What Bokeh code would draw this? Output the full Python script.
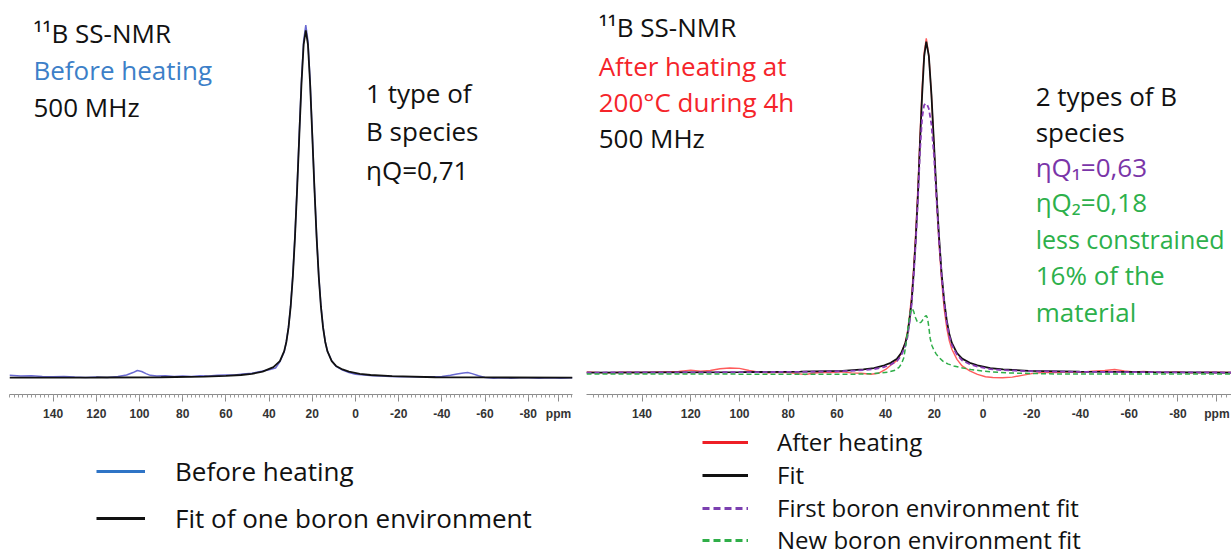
from bokeh.plotting import figure
from bokeh.layouts import row, column
from bokeh.models import Range1d, FixedTicker, Label, Legend, LegendItem
from bokeh.embed import file_html
from bokeh.resources import INLINE

# ---------------- data ----------------
tick_values = [140, 120, 100, 80, 60, 40, 20, 0, -20, -40, -60, -80]
tick_labels = ["140", "120", "100", "80", "60", "40", "20", "0", "-20", "-40", "-60", "-80"]
minor_tick_values = list(range(-100, 162, 2))
unit_label = "ppm"

# Left panel: before heating (experimental) and single-site fit
left_ppm_exp = [160.2, 155, 150, 145, 140, 135, 130, 125, 120, 115, 110, 106, 103, 101, 99, 97, 95, 92, 88, 84,
                80, 76, 72, 68, 64, 60, 56, 52, 48, 44, 40, 37, 35, 33, 32, 31, 30, 29, 28, 27,
                26, 25, 24, 23, 22, 21, 20, 19, 18, 17, 16, 15, 14, 13, 11, 9, 6, 3, 0, -4,
                -8, -12, -16, -20, -25, -30, -35, -40, -44, -47, -50, -52, -54, -57, -60, -64, -68, -72, -76, -80,
                -85, -90, -95, -100.5]
left_exp = [0.9, 0.7, 0.8, 0.6, 0.5, 0.6, 0.4, 0.3, 0.4, 0.3, 0.6, 1.0, 1.7, 2.3, 2.0, 1.4, 0.9, 0.7, 0.8, 0.6,
            0.7, 0.6, 0.8, 0.7, 0.9, 1.0, 1.0, 1.3, 1.5, 2.0, 2.5, 3.0, 4.8, 7.6, 10.6, 14.8, 21.0, 29.8, 41.2, 55.3,
            70.8, 85.7, 97.1, 101.5, 97.0, 85.5, 70.5, 55.0, 41.0, 29.5, 21.0, 14.8, 10.6, 7.9, 5.1, 3.5, 2.4, 1.7, 1.2, 1.0,
            0.8, 0.7, 0.6, 0.5, 0.5, 0.4, 0.5, 0.6, 0.9, 1.3, 1.6, 1.7, 1.4, 0.8, 0.3, 0.1, 0.2, 0.1, 0.2, 0.2,
            0.1, 0.2, 0.1, 0.2]

left_ppm_fit = [160.2, 120, 90, 70, 60, 53, 48, 43, 38, 35, 33, 32, 31, 30, 29, 28, 27, 26, 25, 24,
                23, 22, 21, 20, 19, 18, 17, 16, 15, 14, 13, 11, 9, 6, 3, -2, -7, -17, -37, -60, -100.5]
left_fit = [0.25, 0.28, 0.36, 0.53, 0.73, 1.0, 1.35, 1.96, 3.25, 5.0, 7.85, 10.5, 14.6, 20.7, 29.3, 40.7, 54.6, 69.9, 84.7, 95.9,
            100.0, 95.9, 84.7, 69.9, 54.6, 40.7, 29.3, 20.7, 14.6, 10.5, 7.85, 5.0, 3.6, 2.6, 1.96, 1.35, 1.0, 0.66, 0.36, 0.3, 0.25]

# Right panel: after heating (experimental), total fit, and the two boron environments
right_ppm_exp = [162.8, 155, 148, 140, 132, 125, 120, 116, 112, 108, 104, 100, 96, 92, 88, 84, 80, 76, 73, 70,
                 66, 62, 58, 54, 50, 46, 43, 40, 37.9, 35.3, 33.6, 31.9, 31.0, 30.2, 29.3, 28.5, 27.6, 26.7, 25.9, 25.0,
                 24.2, 23.3, 22.25, 21.2, 20.15, 19.1, 18.05, 17.0, 15.95, 14.9, 13.85, 12.8, 10.7, 8.6, 5.45, 2.3, -1, -4, -8, -12,
                 -16, -20, -25, -30, -35, -40, -45, -50, -54, -58, -62, -66, -70, -75, -80, -85, -90, -95, -102]
right_exp = [1.9, 1.6, 1.8, 1.7, 1.9, 2.0, 2.4, 2.1, 2.3, 2.8, 3.0, 2.9, 2.3, 1.8, 1.6, 1.8, 1.7, 1.4, 1.1, 1.5,
             1.8, 1.7, 1.9, 1.6, 1.5, 1.2, 1.5, 2.6, 3.8, 5.2, 7.2, 10.5, 13.5, 18.0, 24.0, 31.8, 42.5, 55.5, 69.5, 83.5,
             93.5, 97.7, 92.8, 81.5, 66.8, 51.8, 38.5, 28.0, 20.0, 14.5, 10.8, 8.4, 5.5, 3.6, 2.2, 1.2, 0.5, 0.3, 0.2, 0.4,
             0.9, 1.4, 1.8, 1.7, 1.9, 1.8, 2.1, 2.3, 2.6, 2.2, 1.9, 2.0, 1.8, 1.7, 1.9, 1.6, 1.7, 1.8, 1.7]

right_ppm_fit = [162.8, 130, 100, 74.9, 57.7, 49.1, 44.8, 40.5, 37.9, 35.3, 33.6, 31.9, 31.0, 30.2, 29.3, 28.5, 27.6, 26.7, 25.9, 25.0,
                 24.16, 23.3, 22.25, 21.2, 20.15, 19.1, 18.05, 17.0, 15.95, 14.9, 13.85, 12.8, 10.7, 8.6, 5.45, 2.3, -2.95, -8.2, -18.7, -39.7,
                 -70, -102]
right_fit = [1.7, 1.75, 1.8, 1.95, 2.2, 2.6, 3.0, 3.8, 4.5, 5.7, 7.3, 10.2, 12.8, 16.7, 22.3, 30.1, 40.5, 53.2, 67.6, 81.7,
             92.6, 96.8, 92.6, 81.7, 67.6, 53.2, 40.5, 30.1, 22.3, 16.7, 12.8, 10.2, 7.3, 5.7, 4.5, 3.8, 3.0, 2.6, 2.2, 1.95,
             1.8, 1.7]

right_ppm_env1 = [162.8, 100, 74.9, 57.7, 49.1, 44.8, 40.5, 37.9, 35.3, 33.6, 31.9, 31.0, 30.2, 29.3, 28.5, 27.6, 26.7, 25.9, 25.0, 24.2,
                  23.6, 23.0, 22.25, 21.2, 20.15, 19.1, 18.05, 17.0, 15.95, 14.9, 13.85, 12.8, 10.7, 8.6, 5.45, 2.3, -2.95, -8.2, -18.7, -39.7,
                  -70, -102]
right_env1 = [1.7, 1.8, 1.9, 2.1, 2.4, 2.7, 3.3, 4.0, 5.0, 6.6, 9.4, 12.0, 16.0, 21.5, 29.3, 39.5, 52.0, 65.0, 75.0, 78.5,
              79.0, 78.8, 77.5, 73.0, 64.0, 51.5, 39.5, 29.5, 21.8, 16.0, 12.2, 9.6, 6.8, 5.2, 4.1, 3.4, 2.7, 2.4, 2.1, 1.9,
              1.8, 1.7]

right_ppm_env2 = [162.8, 120, 80, 55, 45, 39, 36, 34.5, 33.5, 32.6, 31.8, 31.0, 30.3, 29.6, 29.1, 28.5, 27.8, 27.0, 26.2, 25.4,
                  24.6, 23.9, 23.3, 22.8, 22.3, 21.7, 21.0, 20.2, 19.2, 18.0, 16.5, 14.5, 12.0, 9.0, 5.0, 0, -10, -30, -60, -102]
right_env2 = [1.3, 1.3, 1.2, 1.2, 1.4, 1.8, 2.4, 3.2, 4.2, 5.8, 9.0, 13.5, 17.5, 19.8, 20.1, 19.3, 17.6, 16.3, 15.9, 16.2,
              17.0, 17.8, 18.1, 17.3, 15.0, 11.5, 9.5, 8.2, 7.0, 6.0, 5.0, 4.2, 3.6, 3.1, 2.6, 2.1, 1.6, 1.3, 1.3, 1.3]

left_legend_labels = ["Before heating", "Fit of one boron environment"]
right_legend_labels = ["After heating", "Fit", "First boron environment fit", "New boron environment fit"]

# ---------------- styling ----------------
FONT = "Open Sans"
TXT = "26px"
BLACK = "#111111"
BLUE_TXT = "#3c7fc8"
RED_TXT = "#f5242a"
PURPLE_TXT = "#7a35a8"
GREEN_TXT = "#2db04b"


def make_fig(frame_w, x_start, x_end, mbl, mbr, unit_pos):
    p = figure(frame_width=frame_w, frame_height=386,
               x_range=Range1d(x_start, x_end), y_range=Range1d(-4.6, 106.3),
               output_backend="svg", toolbar_location=None, y_axis_location=None,
               min_border_left=mbl, min_border_right=mbr, min_border_top=8, min_border_bottom=30)
    p.grid.visible = False
    p.outline_line_color = None
    p.background_fill_color = "white"
    p.border_fill_color = "white"
    ax = p.xaxis[0]
    ax.ticker = FixedTicker(ticks=tick_values + [unit_pos], minor_ticks=minor_tick_values)
    overrides = {v: s for v, s in zip(tick_values, tick_labels)}
    overrides[unit_pos] = unit_label
    ax.major_label_overrides = overrides
    ax.axis_line_color = "#8c8c8c"
    ax.major_tick_line_color = "#8c8c8c"
    ax.minor_tick_line_color = "#9a9a9a"
    ax.major_tick_in = 0
    ax.major_tick_out = 7
    ax.minor_tick_in = 0
    ax.minor_tick_out = 3
    ax.major_label_text_font = "Liberation Sans"
    ax.major_label_text_font_style = "bold"
    ax.major_label_text_font_size = "12px"
    ax.major_label_text_color = "#333333"
    ax.major_label_standoff = 5
    return p


def add_text(p, x, y, text, color=BLACK, size=TXT):
    p.add_layout(Label(x=x, y=y, text=text, text_font=FONT, text_font_size=size,
                       text_color=color, text_align="left", text_baseline="middle"))


def legend_fig(width, items, x, glyph_w, standoff, font_size):
    # Legend swatches use the real series, drawn in a figure whose ranges lie
    # outside the data, so only the legend entries are visible. One legend per
    # entry lets the rows sit as tightly as in the original.
    f = figure(width=width, height=132, output_backend="svg", toolbar_location=None,
               x_axis_location=None, y_axis_location=None,
               x_range=Range1d(1000, 1001), y_range=Range1d(1000, 1001),
               min_border_left=0, min_border_right=0, min_border_top=0, min_border_bottom=0)
    f.grid.visible = False
    f.outline_line_color = None
    f.border_fill_color = "white"
    for label, xs, ys, color, dash, y in items:
        r = f.line(xs, ys, line_color=color, line_width=3, line_dash=dash)
        leg = Legend(items=[LegendItem(label=label, renderers=[r])], location=(x, y),
                     label_text_font=FONT, label_text_font_size=font_size, label_text_color=BLACK,
                     glyph_width=glyph_w, glyph_height=20, label_height=20, label_standoff=standoff,
                     spacing=0, padding=0, margin=0,
                     background_fill_alpha=0, border_line_alpha=0)
        f.add_layout(leg, "center")
    return f


# ---------------- left panel ----------------
pl = make_fig(563, 160.2, -100.5, 9, 7, -94)
pl.line(left_ppm_exp, left_exp, line_color="#6a6ad2", line_width=1.5)
pl.line(left_ppm_fit, left_fit, line_color="#111111", line_width=1.8)

add_text(pl, 149.1, 99.4, "\u00b9\u00b9B SS-NMR")
add_text(pl, 149.1, 88.6, "Before heating", BLUE_TXT)
add_text(pl, 149.1, 77.9, "500 MHz")
add_text(pl, -4.9, 81.9, "1 type of")
add_text(pl, -4.9, 71.0, "B species")
add_text(pl, -4.9, 59.8, "\u03b7Q=0,71")

# ---------------- right panel ----------------
pr = make_fig(645, 162.8, -102.0, 7, 0, -96)
pr.line(right_ppm_exp, right_exp, line_color="#ff5c5c", line_width=1.4)
pr.line(right_ppm_fit, right_fit, line_color="#111111", line_width=1.8)
pr.line(right_ppm_env1, right_env1, line_color="#8a3cb8", line_width=1.8, line_dash="5 3")
pr.line(right_ppm_env2, right_env2, line_color="#2fae48", line_width=1.5, line_dash="5 3")

add_text(pr, 157.8, 100.9, "\u00b9\u00b9B SS-NMR")
add_text(pr, 157.8, 89.9, "After heating at", RED_TXT)
add_text(pr, 157.8, 79.3, "200\u00b0C during 4h", RED_TXT)
add_text(pr, 157.8, 69.0, "500 MHz")
add_text(pr, -21.6, 81.3, "2 types of B")
add_text(pr, -21.6, 70.7, "species")
add_text(pr, -21.6, 60.9, "\u03b7Q\u2081=0,63", PURPLE_TXT)
add_text(pr, -21.6, 50.6, "\u03b7Q\u2082=0,18", GREEN_TXT)
add_text(pr, -21.6, 40.2, "less constrained", GREEN_TXT, "25px")
add_text(pr, -21.6, 29.6, "16% of the", GREEN_TXT)
add_text(pr, -21.6, 19.0, "material", GREEN_TXT)

# ---------------- legends (below the spectra) ----------------
ll = legend_fig(579, [(left_legend_labels[0], left_ppm_exp, left_exp, "#2e74c6", "solid", 67),
                      (left_legend_labels[1], left_ppm_fit, left_fit, "#111111", "solid", 20)],
                96, 49, 30, TXT)
lr = legend_fig(652, [(right_legend_labels[0], right_ppm_exp, right_exp, "#ee1f26", "solid", 98),
                      (right_legend_labels[1], right_ppm_fit, right_fit, "#111111", "solid", 65),
                      (right_legend_labels[2], right_ppm_env1, right_env1, "#7b3fb0", "7 4", 32),
                      (right_legend_labels[3], right_ppm_env2, right_env2, "#2fae48", "7 4", 0)],
                123, 46, 29, "24px")

layout = column(row(pl, pr, spacing=0), row(ll, lr, spacing=0), spacing=0)
open("out.html", "w").write(file_html(layout, INLINE))
